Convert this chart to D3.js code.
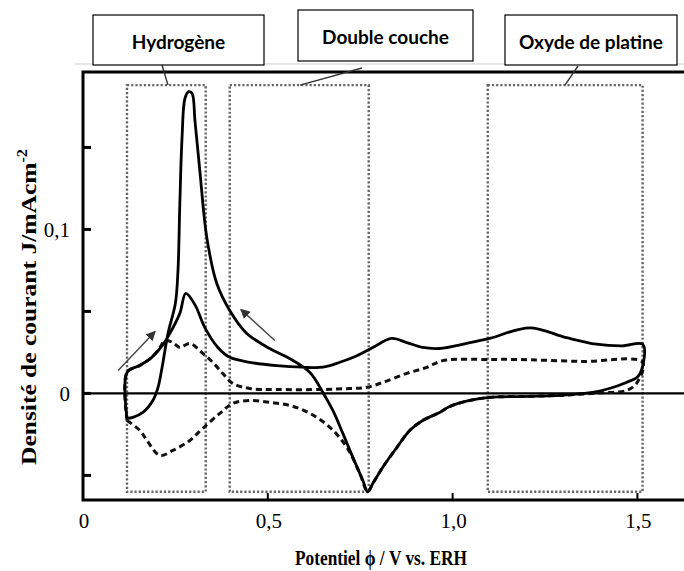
<!DOCTYPE html>
<html><head><meta charset="utf-8">
<script src="https://cdn.jsdelivr.net/npm/d3@7/dist/d3.min.js"></script>
<style>body{margin:0;background:#fff}svg{display:block}</style>
</head><body>
<svg id="c" width="684" height="571"></svg>
<script>
// ---- data (potential V vs ERH, current density mA/cm2) ----
const solidV = [0.119,0.135,0.162,0.189,0.203,0.214,0.230,0.250,0.257,0.262,0.268,0.276,0.286,0.295,0.303,0.316,0.335,0.362,0.397,0.443,0.505,0.559,0.614,0.649,0.676,0.703,0.730,0.757,0.770,0.784,0.811,0.849,0.884,0.919,0.965,0.992,1.046,1.100,1.208,1.289,1.378,1.424,1.470,1.500,1.514,1.514,1.459,1.389,1.308,1.208,1.100,1.038,0.965,0.919,0.876,0.835,0.784,0.741,0.695,0.649,0.595,0.524,0.451,0.397,0.365,0.330,0.303,0.278,0.262,0.235,0.214,0.186,0.154,0.119,0.119];
const solidJ = [-0.0152,-0.0146,-0.0116,-0.0043,0.0037,0.0159,0.0366,0.055,0.075,0.116,0.156,0.180,0.184,0.183,0.166,0.136,0.095,0.067,0.0506,0.0366,0.0274,0.0213,0.0128,0.0006,-0.0104,-0.0244,-0.039,-0.053,-0.060,-0.055,-0.045,-0.033,-0.0226,-0.0165,-0.0116,-0.008,-0.0043,-0.0024,-0.0018,-0.0012,0.0006,0.003,0.0067,0.010,0.0165,0.030,0.029,0.030,0.034,0.040,0.0335,0.0305,0.0274,0.028,0.031,0.0335,0.028,0.023,0.019,0.016,0.016,0.017,0.019,0.022,0.028,0.040,0.054,0.061,0.0488,0.0366,0.029,0.022,0.0171,0.0128,-0.0152];
const dashedV = [0.119,0.154,0.173,0.208,0.243,0.289,0.324,0.370,0.405,0.451,0.505,0.559,0.614,0.668,0.714,0.749,0.770,0.784,0.811,0.849,0.884,0.919,0.965,0.992,1.046,1.100,1.208,1.289,1.378,1.424,1.470,1.497,1.514,1.351,1.173,1.100,0.973,0.930,0.876,0.811,0.768,0.722,0.649,0.524,0.451,0.405,0.378,0.351,0.324,0.289,0.262,0.243,0.222,0.208,0.186,0.154,0.119,0.119];
const dashedJ = [-0.0165,-0.0226,-0.0287,-0.0378,-0.0348,-0.0287,-0.0213,-0.0122,-0.0061,-0.0043,-0.0055,-0.0073,-0.0122,-0.0207,-0.0329,-0.0488,-0.060,-0.055,-0.045,-0.033,-0.0226,-0.0165,-0.0116,-0.008,-0.0043,-0.0024,-0.0018,-0.0012,0.0,0.0006,0.0018,0.006,0.019,0.0195,0.0207,0.0207,0.020,0.0159,0.0122,0.0067,0.0037,0.003,0.0024,0.0024,0.003,0.0061,0.0122,0.0189,0.0244,0.0305,0.028,0.031,0.0323,0.028,0.022,0.0171,0.0128,-0.0165];

const xTicks = [0, 0.5, 1.0, 1.5];
const xTickLabels = ["0", "0,5", "1,0", "1,5"];
const yTicks = [-0.05, 0, 0.05, 0.1, 0.15];
const yTickLabels = {"0": "0", "0.1": "0,1"};

const regionNames = ["Hydrogène", "Double couche", "Oxyde de platine"];
const regionV0 = [0.119, 0.397, 1.095];
const regionV1 = [0.332, 0.773, 1.514];
const regionJTop = 0.188, regionJBottom = -0.060;

const arrowFromV = [0.095, 0.519], arrowFromJ = [0.014, 0.0323];
const arrowToV = [0.195, 0.427], arrowToJ = [0.0378, 0.0512];

// ---- layout ----
const svg = d3.select("#c");
const x = d3.scaleLinear().domain([0, 1.626]).range([83, 684]);
const y = d3.scaleLinear().domain([-0.065, 0.196]).range([500, 72]);

svg.append("defs").append("marker").attr("id","ah").attr("viewBox","0 0 10 10")
  .attr("refX",9).attr("refY",5).attr("markerWidth",7).attr("markerHeight",7).attr("orient","auto")
  .append("path").attr("d","M0,0L10,5L0,10z").attr("fill","#333");

// faint gray line above the frame
svg.append("line").attr("x1",75).attr("x2",684).attr("y1",64).attr("y2",64).attr("stroke","#ccc").attr("stroke-width",1);

// dotted region boxes
const g = svg.append("g");
regionNames.forEach((n,i)=>{
  g.append("rect").attr("x", x(regionV0[i])).attr("y", y(regionJTop))
   .attr("width", x(regionV1[i]) - x(regionV0[i])).attr("height", y(regionJBottom) - y(regionJTop))
   .attr("fill","none").attr("stroke","#666").attr("stroke-width",2.4).attr("stroke-dasharray","2.2,2");
});

// zero line
g.append("line").attr("x1", x(0)).attr("x2", 684).attr("y1", y(0)).attr("y2", y(0))
  .attr("stroke","#000").attr("stroke-width",2.2);

const line = d3.line().x(d=>x(d[0])).y(d=>y(d[1])).curve(d3.curveCatmullRom.alpha(0.5));
const solid = solidV.map((v,i)=>[v, solidJ[i]]);
const dashed = dashedV.map((v,i)=>[v, dashedJ[i]]);
g.append("path").attr("d", line(dashed)).attr("fill","none").attr("stroke","#111")
  .attr("stroke-width",3).attr("stroke-dasharray","6,4");
g.append("path").attr("d", line(solid)).attr("fill","none").attr("stroke","#000")
  .attr("stroke-width",2.8).attr("stroke-linejoin","round");

// arrows
arrowFromV.forEach((v,i)=>{
  g.append("line").attr("x1", x(v)).attr("y1", y(arrowFromJ[i]))
   .attr("x2", x(arrowToV[i])).attr("y2", y(arrowToJ[i]))
   .attr("stroke","#444").attr("stroke-width",1.4).attr("marker-end","url(#ah)");
});

// frame
svg.append("path").attr("d", `M684,${y.range()[1]}H${x(0)}V${y.range()[0]}H684`)
  .attr("fill","none").attr("stroke","#000").attr("stroke-width",3);

// y ticks (inward)
yTicks.forEach(t=>{
  svg.append("line").attr("x1", x(0)).attr("x2", x(0)+8).attr("y1", y(t)).attr("y2", y(t))
    .attr("stroke","#000").attr("stroke-width",3);
  const lab = yTickLabels[String(t)];
  if (lab) svg.append("text").attr("x", x(0)-13).attr("y", y(t)).attr("dy","0.35em")
    .attr("text-anchor","end").attr("font-family","Liberation Serif").attr("font-size",21).text(lab);
});
// x ticks (inward)
xTicks.forEach((t,i)=>{
  if (t>0) svg.append("line").attr("x1", x(t)).attr("x2", x(t)).attr("y1", y.range()[0]).attr("y2", y.range()[0]-7)
    .attr("stroke","#000").attr("stroke-width",2);
  svg.append("text").attr("x", x(t)+1).attr("y", 528).attr("text-anchor","middle")
    .attr("font-family","Liberation Serif").attr("font-size",21).text(xTickLabels[i]);
});

// axis titles
svg.append("text").attr("x", 381).attr("y", 565).attr("text-anchor","middle")
  .attr("font-family","Liberation Serif").attr("font-weight","bold").attr("font-size",21)
  .attr("textLength",172).attr("lengthAdjust","spacingAndGlyphs").text("Potentiel ϕ / V vs. ERH");
const yl = svg.append("text").attr("transform","translate(36,307) rotate(-90)").attr("text-anchor","middle")
  .attr("font-family","Liberation Serif").attr("font-weight","bold").attr("font-size",22)
  .attr("textLength",316).attr("lengthAdjust","spacingAndGlyphs");
yl.append("tspan").text("Densité de courant J/mAcm");
yl.append("tspan").attr("dy",-9).attr("font-size",14).text("-2");

// region labels
const lbx = [93, 298, 505], lby = [15, 10, 15], lbw = [171, 175, 172], lbh = [50, 51, 50];
const leadFrom = [[162,65],[362,68],[578,66]], leadTo = [[168,y(regionJTop)],[300,y(regionJTop)],[565,y(regionJTop)]];
regionNames.forEach((n,i)=>{
  svg.append("line").attr("x1",leadFrom[i][0]).attr("y1",leadFrom[i][1]).attr("x2",leadTo[i][0]).attr("y2",leadTo[i][1])
    .attr("stroke","#333").attr("stroke-width",1.4);
  svg.append("rect").attr("x",lbx[i]).attr("y",lby[i]).attr("width",lbw[i]).attr("height",lbh[i])
    .attr("fill","#fff").attr("stroke","#000").attr("stroke-width",1.2);
  svg.append("text").attr("x", lbx[i]+lbw[i]/2).attr("y", lby[i]+lbh[i]/2+2).attr("dy","0.35em")
    .attr("text-anchor","middle").attr("font-family","Lato").attr("font-weight","bold").attr("font-size",19).text(n);
});
</script>
</body></html>
